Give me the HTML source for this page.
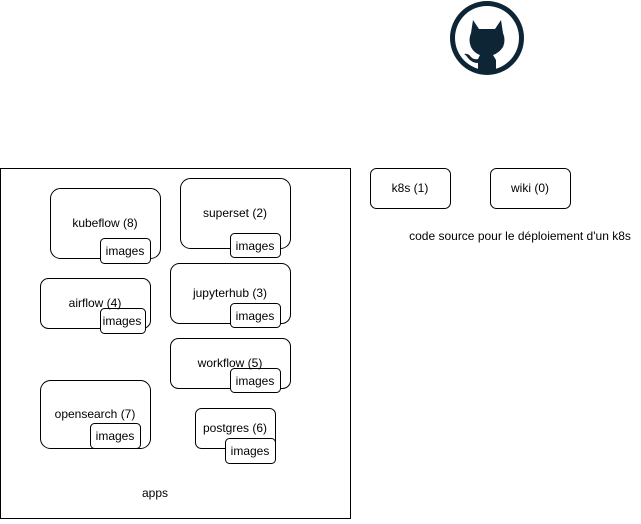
<!DOCTYPE html>
<html><head><style>
body{margin:0;background:#fff;width:641px;height:519px;overflow:hidden}
svg text{font-family:"Liberation Sans",Arial,sans-serif;font-size:12px;fill:#000}
</style></head><body>
<svg width="641" height="519" viewBox="0 0 641 519" xmlns="http://www.w3.org/2000/svg">
<g fill="#fff" stroke="#000" stroke-width="1">
<rect x="0.5" y="168.5" width="350" height="350"/>
<rect x="50.5" y="188.5" width="110" height="70" rx="10"/>
<rect x="100.5" y="238.5" width="50" height="25" rx="4"/>
<rect x="180.5" y="178.5" width="110" height="70" rx="10"/>
<rect x="230.5" y="233.5" width="50" height="24" rx="4"/>
<rect x="40.5" y="278.5" width="110" height="50" rx="8"/>
<rect x="100.5" y="308.5" width="45" height="25" rx="4"/>
<rect x="170.5" y="263.5" width="120" height="60" rx="9"/>
<rect x="230.5" y="303.5" width="50" height="24" rx="4"/>
<rect x="170.5" y="338.5" width="120" height="50" rx="8"/>
<rect x="230.5" y="368.5" width="50" height="24" rx="4"/>
<rect x="40.5" y="380.5" width="110" height="68" rx="10"/>
<rect x="90.5" y="423.5" width="50" height="25" rx="4"/>
<rect x="195.5" y="408.5" width="80" height="40" rx="6"/>
<rect x="225.5" y="438.5" width="50" height="25" rx="4"/>
<rect x="370.5" y="168.5" width="80" height="40" rx="6"/>
<rect x="490.5" y="168.5" width="80" height="40" rx="6"/>
</g>
<g text-anchor="middle">
<text x="105" y="227">kubeflow (8)</text>
<text x="125" y="255">images</text>
<text x="235" y="217">superset (2)</text>
<text x="255" y="250">images</text>
<text x="95" y="307">airflow (4)</text>
<text x="122" y="325">images</text>
<text x="230" y="297">jupyterhub (3)</text>
<text x="255" y="320">images</text>
<text x="230" y="367">workflow (5)</text>
<text x="255" y="385">images</text>
<text x="95" y="418">opensearch (7)</text>
<text x="115" y="440">images</text>
<text x="235" y="432">postgres (6)</text>
<text x="250" y="455">images</text>
<text x="410" y="192">k8s (1)</text>
<text x="530" y="192">wiki (0)</text>
<text x="520" y="240">code source pour le déploiement d'un k8s</text>
<text x="155" y="497">apps</text>
</g>
<g fill="#0d2535">
<circle cx="487" cy="38" r="37"/>
<circle cx="487" cy="38" r="32" fill="#fff"/>
<path d="M473 20 L479 29 L495 29 L501 20 L503 33 Q506 40 503 47 Q499 53 493 55 L496 60 L496 72 L478 72 L478 63 Q472 63 468 58 Q466 55 464 54 Q468 53 471 57 Q474 60 478 59 L480 55 Q474 53 471 47 Q468 40 471 33 Z"/>
</g>
</svg>
</body></html>
